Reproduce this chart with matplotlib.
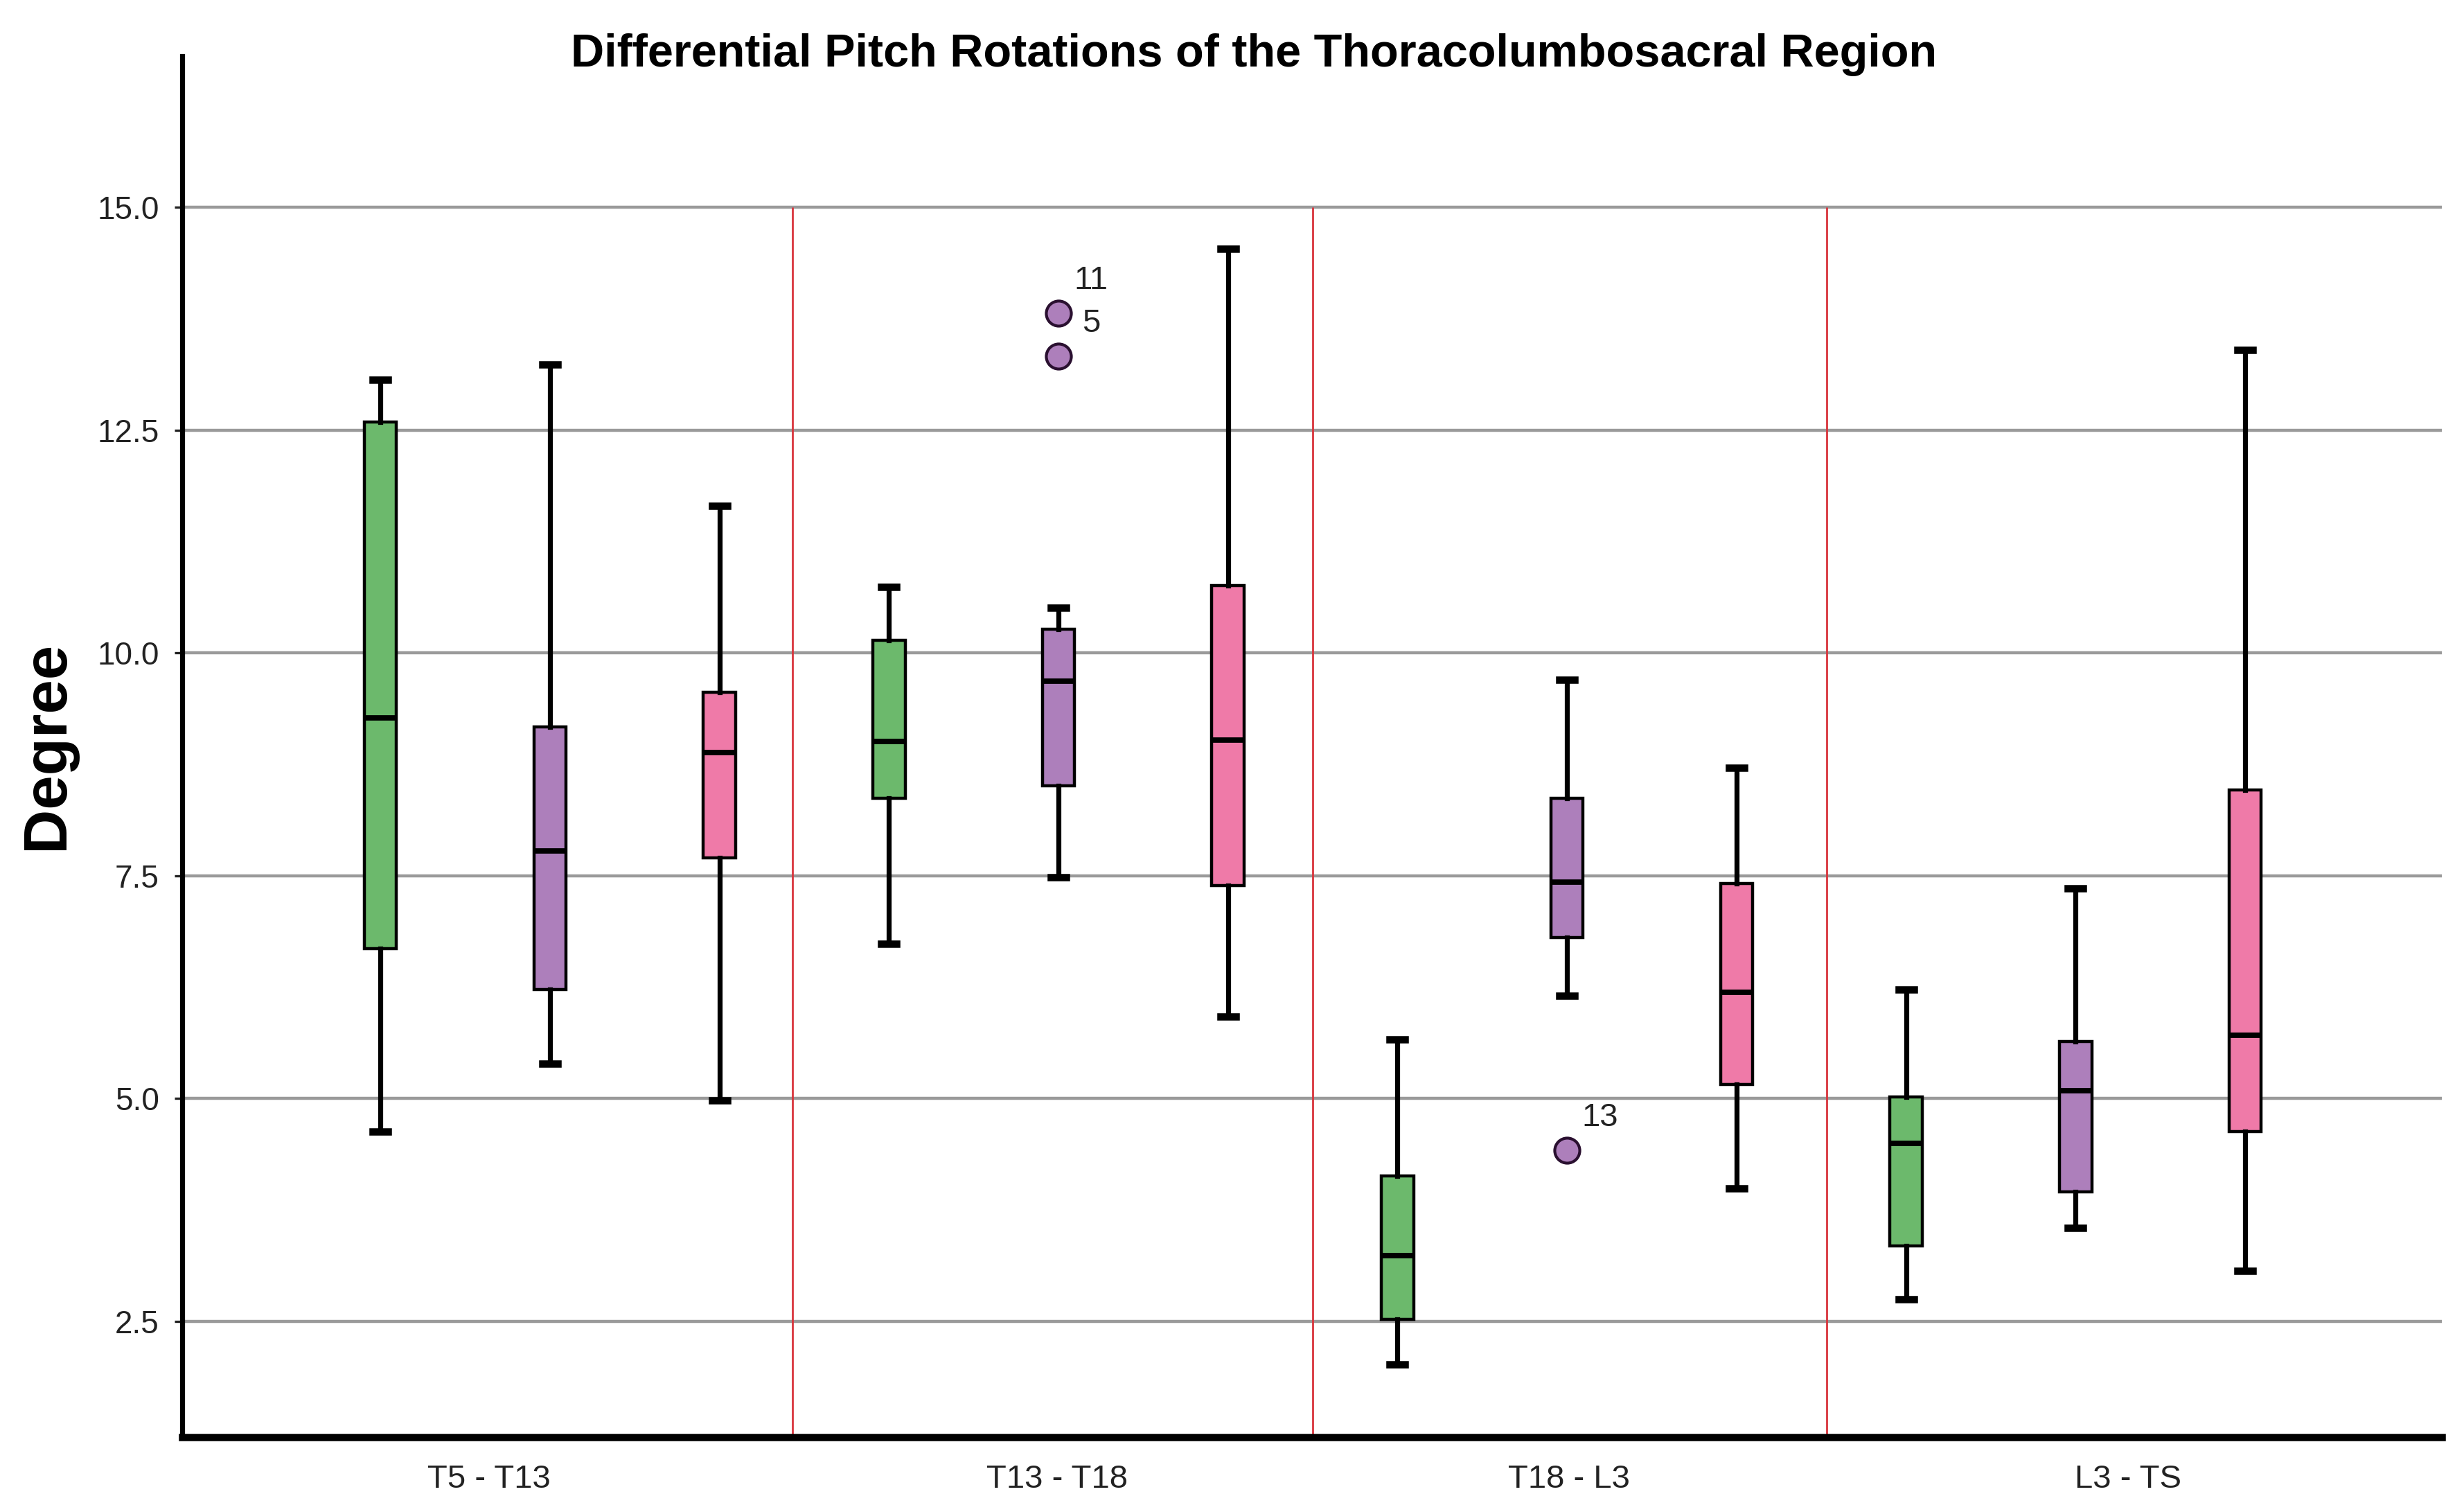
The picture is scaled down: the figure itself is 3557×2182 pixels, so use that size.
import matplotlib
matplotlib.use("Agg")
import matplotlib.pyplot as plt

plt.rcParams['font.family'] = ['Liberation Sans', 'DejaVu Sans']

# data (degrees)
regions = ["T5 - T13", "T13 - T18", "T18 - L3", "L3 - TS"]

green_lo  = [4.63, 6.74, 2.02, 2.75]
green_q1  = [6.68, 8.37, 2.52, 3.35]
green_med = [9.27, 9.01, 3.24, 4.50]
green_q3  = [12.59, 10.14, 4.13, 5.02]
green_hi  = [13.07, 10.74, 5.66, 6.22]

purple_lo  = [5.39, 7.48, 6.15, 3.55]
purple_q1  = [6.22, 8.51, 6.81, 3.95]
purple_med = [7.78, 9.68, 7.43, 5.09]
purple_q3  = [9.17, 10.27, 8.37, 5.64]
purple_hi  = [13.24, 10.51, 9.70, 7.36]

pink_lo  = [4.98, 5.92, 3.99, 3.07]
pink_q1  = [7.70, 7.39, 5.16, 4.63]
pink_med = [8.88, 9.02, 6.19, 5.71]
pink_q3  = [9.56, 10.76, 7.41, 8.46]
pink_hi  = [11.65, 14.54, 8.71, 13.40]

# outliers (purple series): region index, value, case label
outlier_region = [1, 1, 2]
outlier_value  = [13.81, 13.33, 4.42]
outlier_label  = ["11", "5", "13"]

colors = ["#6cb96c", "#ad7fbb", "#ef7aa8"]
series = [
    (green_lo, green_q1, green_med, green_q3, green_hi),
    (purple_lo, purple_q1, purple_med, purple_q3, purple_hi),
    (pink_lo, pink_q1, pink_med, pink_q3, pink_hi),
]

fig = plt.figure(figsize=(17.785, 10.91), dpi=200)
ax = fig.add_axes([0.074, 0.0495, 0.917, 0.9135])

ylo, yhi = 1.2, 16.7
ax.set_ylim(ylo, yhi)
ax.set_xlim(-1.168, 12.16)

# grid lines
for yv in [2.5, 5.0, 7.5, 10.0, 12.5, 15.0]:
    ax.axhline(yv, color="#9a9a9a", lw=1.6, zorder=0)

# red separators between regions (only up to 15.0)
for xs in [2.43, 5.5, 8.53]:
    ax.vlines(xs, ylo, 15.0, color="#d8343c", lw=1.0, zorder=0.5)

for s, (lo, q1, med, q3, hi) in enumerate(series):
    stats = []
    pos = []
    for g in range(len(regions)):
        stats.append(dict(whislo=lo[g], q1=q1[g], med=med[g], q3=q3[g], whishi=hi[g], fliers=[]))
        pos.append(g * 3 + s)
    ax.bxp(stats, positions=pos, widths=0.19, capwidths=0.09, patch_artist=True,
           showfliers=False, manage_ticks=False,
           boxprops=dict(facecolor=colors[s], edgecolor="black", linewidth=1.6),
           medianprops=dict(color="black", linewidth=2.8),
           whiskerprops=dict(color="black", linewidth=2.6),
           capprops=dict(color="black", linewidth=3.8))

for r, v, lab in zip(outlier_region, outlier_value, outlier_label):
    x = r * 3 + 1
    ax.plot(x, v, "o", ms=13, mfc=colors[1], mec="#2a1030", mew=1.5, zorder=3)
    ax.annotate(lab, (x, v), xytext=(17, 17), textcoords="offset points",
                ha="center", va="center", fontsize=17, color="#222222")

ax.set_yticks([2.5, 5.0, 7.5, 10.0, 12.5, 15.0])
ax.set_yticklabels(["2.5", "5.0", "7.5", "10.0", "12.5", "15.0"])
ax.set_xticks([0.64, 3.99, 7.01, 10.31])
ax.set_xticklabels(regions)
ax.tick_params(axis="y", labelsize=16.5, length=4, width=1.2, pad=8, colors="#222222")
ax.tick_params(axis="x", labelsize=17, length=0, pad=14, colors="#222222")

for side in ["top", "right"]:
    ax.spines[side].set_visible(False)
ax.spines["left"].set_linewidth(2.6)
ax.spines["bottom"].set_linewidth(3.8)

fig.text(0.019, 0.507, "Degree", rotation=90, ha="center", va="center",
         fontsize=32, fontweight="bold")
fig.text(0.509, 0.964, "Differential Pitch Rotations of the Thoracolumbosacral Region",
         ha="center", va="center", fontsize=24, fontweight="bold")

fig.savefig("out.png", dpi=200)
